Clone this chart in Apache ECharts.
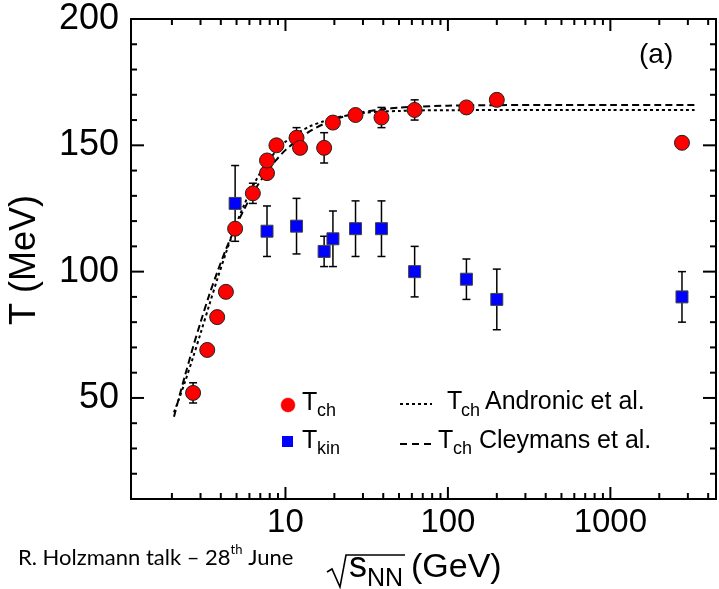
<!DOCTYPE html>
<html>
<head>
<meta charset="utf-8">
<script src="https://cdn.jsdelivr.net/npm/echarts@6/dist/echarts.min.js"></script>
<style>
  html, body { margin: 0; padding: 0; background: #fff; }
  #chart { width: 719px; height: 589px; }
</style>
</head>
<body>
<div id="chart"></div>
<script>
// Chemical freeze-out temperature T_ch (MeV) vs sqrt(s_NN) (GeV)
const tchEnergy = [2.7, 3.3, 3.8, 4.3, 4.9, 6.3, 7.7, 7.7, 8.8, 11.7, 12.3, 17.3, 19.6, 27, 39, 62.4, 130, 200, 2760];
const tchTemp   = [52, 69, 82, 92, 117, 131, 139, 144, 150, 153, 149, 149, 159, 162, 161, 164, 165, 168, 151];
const tchErr    = [4, 2, 2, 2, 2, 4, 2, 2, 2, 4, 2, 6, 2, 2, 4, 4, 2, 2, 2];

// Kinetic freeze-out temperature T_kin (MeV)
const tkinEnergy = [4.9, 7.7, 11.7, 17.3, 19.6, 27, 39, 62.4, 130, 200, 2760];
const tkinTemp   = [127, 116, 118, 108, 113, 117, 117, 100, 97, 89, 90];
const tkinErr    = [15, 10, 11, 6, 11, 11, 11, 10, 8, 12, 10];

// Parametrised T_ch curves (Andronic et al., Cleymans et al.)
const curveEnergy  = [2.06, 2.2, 2.4, 2.7, 3.0, 3.4, 3.8, 4.3, 4.9, 5.6, 6.5, 7.5, 8.7, 10, 12, 14, 17, 20, 25, 30, 40, 50, 65, 100, 200, 500, 1000, 3300];
const andronicTemp = [44.3, 49.2, 56.1, 66.1, 75.5, 86.9, 96.9, 107.4, 117.7, 126.8, 135.5, 142.2, 147.5, 151.4, 155.0, 157.4, 159.4, 160.8, 162.0, 162.8, 163.4, 163.6, 163.8, 163.9, 164.0, 164.0, 164.0, 164.0];
const cleymansTemp = [42.6, 49.6, 58.5, 70.2, 79.9, 90.9, 99.7, 108.8, 117.3, 125.0, 132.5, 138.6, 143.9, 148.1, 152.3, 155.4, 158.3, 160.2, 162.1, 163.2, 164.3, 164.9, 165.3, 165.7, 165.9, 166.0, 166.0, 166.0];

// Axis ticks
const xTickValues = [2, 3, 4, 5, 6, 7, 8, 9, 10, 20, 30, 40, 50, 60, 70, 80, 90, 100, 200, 300, 400, 500, 600, 700, 800, 900, 1000, 2000, 3000, 4000];
const xMajorTicks = [10, 100, 1000];
const yTickValues = [20, 30, 40, 50, 60, 70, 80, 90, 100, 110, 120, 130, 140, 150, 160, 170, 180, 190];
const yMajorTicks = [50, 100, 150];

const FONT = 'Liberation Sans, Arial, Helvetica, sans-serif';
const NOTE_FONT = 'Lato, Carlito, sans-serif';

const zip = (xs, ys) => xs.map((x, i) => [x, ys[i]]);
const zip3 = (xs, ys, es) => xs.map((x, i) => [x, ys[i], es[i]]);

function renderErrorBar(params, api) {
  const x = api.value(0), y = api.value(1), e = api.value(2);
  const lo = api.coord([x, y - e]);
  const hi = api.coord([x, y + e]);
  const w = 4;
  const st = { stroke: '#000', lineWidth: 1.5 };
  return {
    type: 'group',
    children: [
      { type: 'line', shape: { x1: lo[0], y1: lo[1], x2: hi[0], y2: hi[1] }, style: st },
      { type: 'line', shape: { x1: lo[0] - w, y1: lo[1], x2: lo[0] + w, y2: lo[1] }, style: st },
      { type: 'line', shape: { x1: hi[0] - w, y1: hi[1], x2: hi[0] + w, y2: hi[1] }, style: st }
    ]
  };
}

function renderXTick(params, api) {
  const px = api.coord([api.value(0), api.value(1)])[0];
  const cs = params.coordSys;
  const len = api.value(2) ? 12 : 6;
  const st = { stroke: '#000', lineWidth: 2 };
  const bottom = cs.y + cs.height;
  return {
    type: 'group',
    children: [
      { type: 'line', shape: { x1: px, y1: bottom, x2: px, y2: bottom - len }, style: st },
      { type: 'line', shape: { x1: px, y1: cs.y, x2: px, y2: cs.y + len }, style: st }
    ]
  };
}

function renderYTick(params, api) {
  const py = api.coord([api.value(0), api.value(1)])[1];
  const cs = params.coordSys;
  const len = api.value(2) ? 13 : 6;
  const st = { stroke: '#000', lineWidth: 2 };
  const right = cs.x + cs.width;
  return {
    type: 'group',
    children: [
      { type: 'line', shape: { x1: cs.x, y1: py, x2: cs.x + len, y2: py }, style: st },
      { type: 'line', shape: { x1: right, y1: py, x2: right - len, y2: py }, style: st }
    ]
  };
}

// text placed by its baseline (middle of the em box sits ~0.35em above it)
function txt(x, baseline, text, size, family, mid) {
  return {
    type: 'text', x: x, y: baseline - (mid || 0.35) * size, z: 100,
    style: { text: text, font: size + 'px ' + (family || FONT), fill: '#000', verticalAlign: 'middle', align: 'left' }
  };
}

const chart = echarts.init(document.getElementById('chart'), null, { renderer: 'canvas' });

chart.setOption({
  animation: false,
  backgroundColor: '#fff',
  grid: { left: 131, right: 3, top: 19, bottom: 90, show: true, borderColor: '#000', borderWidth: 2, backgroundColor: 'transparent' },
  xAxis: {
    type: 'log', logBase: 10, min: 1.12, max: 4470,
    axisLine: { show: false }, axisTick: { show: false }, splitLine: { show: false }, minorTick: { show: false },
    axisLabel: {
      margin: 7, color: '#000', fontFamily: FONT, fontSize: 33,
      showMinLabel: false, showMaxLabel: false,
      formatter: v => {
        const r = Math.round(v);
        return xMajorTicks.includes(r) && Math.abs(v - r) < 1e-6 * r ? String(r) : '';
      }
    }
  },
  yAxis: {
    type: 'value', min: 10, max: 200, interval: 10,
    axisLine: { show: false }, axisTick: { show: false }, splitLine: { show: false },
    axisLabel: {
      margin: 12, color: '#000', fontFamily: FONT, fontSize: 36,
      formatter: v => (v % 50 === 0 ? String(v) : '')
    }
  },
  series: [
    {
      type: 'custom', name: 'xticks', renderItem: renderXTick, clip: false, silent: true, z: 5,
      encode: { x: 0, y: 1 },
      data: xTickValues.map(v => [v, 100, xMajorTicks.includes(v) ? 1 : 0])
    },
    {
      type: 'custom', name: 'yticks', renderItem: renderYTick, clip: false, silent: true, z: 5,
      encode: { x: 0, y: 1 },
      data: yTickValues.map(v => [10, v, yMajorTicks.includes(v) ? 1 : 0])
    },
    {
      type: 'line', name: 'Andronic', data: zip(curveEnergy, andronicTemp),
      showSymbol: false, smooth: 0.3, z: 3,
      lineStyle: { color: '#000', width: 2, type: [3, 3] }
    },
    {
      type: 'line', name: 'Cleymans', data: zip(curveEnergy, cleymansTemp),
      showSymbol: false, smooth: 0.3, z: 3,
      lineStyle: { color: '#000', width: 2, type: [7, 4] }
    },
    {
      type: 'custom', name: 'tkinErr', renderItem: renderErrorBar, z: 4,
      encode: { x: 0, y: 1 }, data: zip3(tkinEnergy, tkinTemp, tkinErr)
    },
    {
      type: 'custom', name: 'tchErr', renderItem: renderErrorBar, z: 4,
      encode: { x: 0, y: 1 }, data: zip3(tchEnergy, tchTemp, tchErr)
    },
    {
      type: 'scatter', name: 'T_kin', data: zip(tkinEnergy, tkinTemp), z: 6,
      symbol: 'rect', symbolSize: 12,
      itemStyle: { color: '#0000ff', borderColor: '#444', borderWidth: 1, opacity: 1 }
    },
    {
      type: 'scatter', name: 'T_ch', data: zip(tchEnergy, tchTemp), z: 7,
      symbol: 'circle', symbolSize: 15,
      itemStyle: { color: '#ff0000', borderColor: '#222', borderWidth: 1, opacity: 1 }
    }
  ],
  graphic: [
    // panel tag
    txt(639, 65, '(a)', 28),
    // y axis title
    {
      type: 'text', x: 25, y: 260, rotation: Math.PI / 2, z: 100,
      style: { text: 'T (MeV)', font: '36px ' + FONT, fill: '#000', align: 'center', verticalAlign: 'middle' }
    },
    // x axis title with radical sign
    {
      type: 'polyline', z: 100,
      shape: { points: [[327, 572], [332, 569], [340, 587], [346, 555], [405, 555]] },
      style: { stroke: '#000', lineWidth: 1.6, fill: null }
    },
    txt(349, 580, 's', 36),
    txt(367, 588, 'NN', 25),
    txt(411, 580, '(GeV)', 34),
    // footnote
    {
      type: 'text', x: 18, y: 556, z: 100,
      style: {
        text: '{m|R. Holzmann talk \u2013 28}{s|th}{m| June}',
        verticalAlign: 'middle', align: 'left',
        rich: {
          m: { font: '22px ' + NOTE_FONT, fill: '#000', verticalAlign: 'bottom', lineHeight: 26 },
          s: { font: '13px ' + NOTE_FONT, fill: '#000', verticalAlign: 'top', lineHeight: 26 }
        }
      }
    },
    // legend: markers
    { type: 'circle', z: 100, shape: { cx: 288, cy: 405, r: 7 }, style: { fill: '#ff0000', stroke: '#ff0000', lineWidth: 0.5 } },
    txt(302, 412, 'T', 25), txt(317, 417, 'ch', 18),
    { type: 'rect', z: 100, shape: { x: 282, y: 436, width: 11, height: 11 }, style: { fill: '#0000ff' } },
    txt(302, 450, 'T', 25), txt(317, 455, 'kin', 18),
    // legend: curves
    { type: 'line', z: 100, shape: { x1: 400, y1: 404, x2: 432, y2: 404 }, style: { stroke: '#000', lineWidth: 2, lineDash: [3, 3] } },
    txt(447, 411, 'T', 25), txt(461, 417, 'ch', 18), txt(485, 411, 'Andronic et al.', 25),
    { type: 'line', z: 100, shape: { x1: 400, y1: 444, x2: 434, y2: 444 }, style: { stroke: '#000', lineWidth: 2, lineDash: [7, 5] } },
    txt(438, 450, 'T', 25), txt(453, 455, 'ch', 18), txt(479, 450, 'Cleymans et al.', 25)
  ]
});
</script>
</body>
</html>
